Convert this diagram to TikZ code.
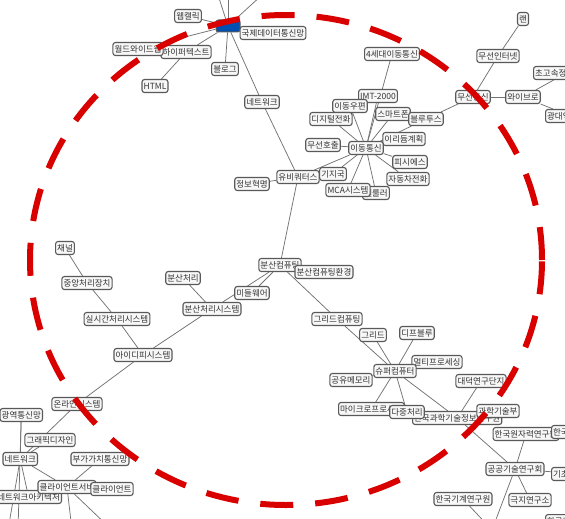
\documentclass[tikz,border=0pt]{standalone}
\usepackage{fontspec}
\usetikzlibrary{backgrounds}
\newfontfamily\kr{Noto Sans CJK KR}
\begin{document}
\begin{tikzpicture}[x=1pt,y=-1pt,
  nd/.style={draw=black!65, fill=gray!6, rounded corners=2.5pt, line width=1.1pt, inner sep=1.6pt, minimum height=13pt, font=\kr\fontsize{8.5}{9}\selectfont, text=black!80},
  hubbox/.style={draw=black!65, fill=blue!55!cyan!70!black, rounded corners=2.5pt, line width=1pt, minimum width=24pt, minimum height=12pt},
  ed/.style={draw=black!55, line width=0.75pt},
  ring/.style={draw=red!85!black, line width=6pt, dash pattern=on 33pt off 22pt}]
\useasboundingbox (0,0) rectangle (565,519);
% ---- nodes (top cluster)
\node[hubbox] (hub) at (228,26) {};
\node[nd] (wc) at (188,16) {웹캘릭};
\node[nd] (gd) at (273,33) {국제데이터통신망};
\node[nd] (ht) at (186,52) {하이퍼텍스트};
\node[nd] (ww) at (138,49) {월드와이드웹};
\node[nd] (bl) at (225,69) {블로그};
\node[nd] (html) at (155,86) {HTML};
\node[nd] (nw1) at (262,102) {네트워크};
% mobile cluster
\node[nd] (g4) at (392,54) {4세대이동통신};
\node[nd] (imt) at (378,96) {IMT-2000};
\node[nd] (iu) at (350,106) {이동우편};
\node[nd] (dj) at (331,119) {디지털전화};
\node[nd] (sp) at (393,114) {스마트폰};
\node[nd] (bt) at (426,119) {블루투스};
\node[nd] (ir) at (404,139) {이리듐계획};
\node[nd] (mh) at (323,145) {무선호출};
\node[nd] (it) at (366,148) {이동통신};
\node[nd] (pcs) at (410,162) {피시에스};
\node[nd] (ub) at (298,177) {유비쿼터스};
\node[nd] (gj) at (333,174) {기지국};
\node[nd] (jd) at (408,179) {자동차전화};
\node[nd] (jh) at (252,184) {정보혁명};
\node[nd] (cel) at (376,193) {셀룰러};
\node[nd] (mca) at (348,190) {MCA시스템};
% top right
\node[nd] (lan) at (523,19) {랜};
\node[nd] (mi) at (498,56) {무선인터넷};
\node[nd] (mt) at (473,97) {무선통신};
\node[nd] (wb) at (523,97) {와이브로};
\node[nd, anchor=west] (cg) at (533,73) {초고속정보통신망};
\node[nd, anchor=west] (gdy) at (545,116) {광대역통신망};
% middle left
\node[nd] (ch) at (65,248) {채널};
\node[nd] (cpu) at (87,283) {중앙처리장치};
\node[nd] (rt) at (117,319) {실시간처리시스템};
\node[nd] (idp) at (143,355) {아이디피시스템};
\node[nd] (bc) at (183,278) {분산처리};
\node[nd] (bcs) at (212,309) {분산처리시스템};
\node[nd] (mw) at (252,293) {미들웨어};
\node[nd] (bk) at (280,265) {분산컴퓨팅};
\node[nd] (bkh) at (324,272) {분산컴퓨팅환경};
% lower middle
\node[nd] (gc) at (337,319) {그리드컴퓨팅};
\node[nd] (gr) at (373,335) {그리드};
\node[nd] (db) at (417,333) {디프블루};
\node[nd] (mp) at (437,362) {멀티프로세싱};
\node[nd] (sc) at (395,371) {슈퍼컴퓨터};
\node[nd] (sm) at (351,380) {공유메모리};
\node[nd] (dd) at (481,381) {대덕연구단지};
\node[nd, anchor=west] (mic) at (338,409) {마이크로프로세서};
\node[nd, anchor=west] (kisti) at (412,418) {한국과학기술정보연구원};
\node[nd] (dj2) at (407,412) {다중처리};
\node[nd] (gkb) at (498,411) {과학기술부};
\node[nd] (kaeri) at (526,434) {한국원자력연구원};
\node[nd, anchor=west] (kr2) at (551,432) {한국생명공학연구원};
\node[nd] (gg) at (515,469) {공공기술연구회};
\node[nd, anchor=west] (gc2) at (551,474) {기초기술연구회};
\node[nd] (kimm) at (463,499) {한국기계연구원};
\node[nd] (kp) at (530,500) {극지연구소};
\node[nd, anchor=north west] (kari) at (545,514) {한국항공우주연구원};
% bottom left
\node[nd] (ol) at (77,404) {온라인시스템};
\node[nd, anchor=east] (gy) at (43,415) {광역통신망};
\node[nd] (gp) at (50,440) {그래픽디자인};
\node[nd, anchor=east] (nw2) at (38,459) {네트워크};
\node[nd] (van) at (100,459) {부가가치통신망};
\node[nd, anchor=east] (na) at (62,497) {네트워크아키텍처};
\node[nd] (cs) at (67,487) {클라이언트서버};
\node[nd] (cl) at (112,489) {클라이언트};
% free ends
\coordinate (t1) at (218,-5);
\coordinate (t2) at (228,-5);
\coordinate (t3) at (262,-5);
\coordinate (b1) at (492,530);
\coordinate (b2) at (72,530);
\coordinate (b3) at (112,530);
\coordinate (b4) at (8,530);
\coordinate (b5) at (18,530);
% ---- edges (behind nodes)
\begin{pgfonlayer}{background}
\fill[white] (0,0) rectangle (565,519);
\foreach \a/\b in {hub/wc, hub/ht, hub/ww, hub/bl, hub/nw1, hub/gd, hub/t1, hub/t2, hub/t3, ht/html,
  nw1/ub, ub/jh, ub/it, ub/bk, gj/it,
  it/imt, it/g4, it/iu, it/dj, it/sp, it/bt, it/ir, it/mh, it/pcs, it/jd, it/mca, it/cel,
  bt/mt, mt/mi, mi/lan, mt/wb, wb/cg, wb/gdy,
  ch/cpu, cpu/rt, rt/idp, bc/bcs, bcs/idp, bcs/bk, mw/bk, bk/bkh, bk/gc,
  gc/sc, gr/sc, db/sc, mp/sc, sm/sc, sc/mic, sc/dj2, sc/kisti,
  dd/kisti, gkb/kisti, kisti/gg, kaeri/gg, gg/gc2, gg/kp, gg/b1, kimm/b1,
  idp/ol, ol/nw2, gy/nw2, gp/nw2, nw2/cs, nw2/na, van/cs, cs/cl, cs/b2, cs/b3, nw2/b4, gy/b5}
  \draw[ed] (\a) -- (\b);
\end{pgfonlayer}
% ---- red dashed ring
\draw[ring] (286,260) ellipse [x radius=256pt, y radius=245pt];
\end{tikzpicture}
\end{document}
